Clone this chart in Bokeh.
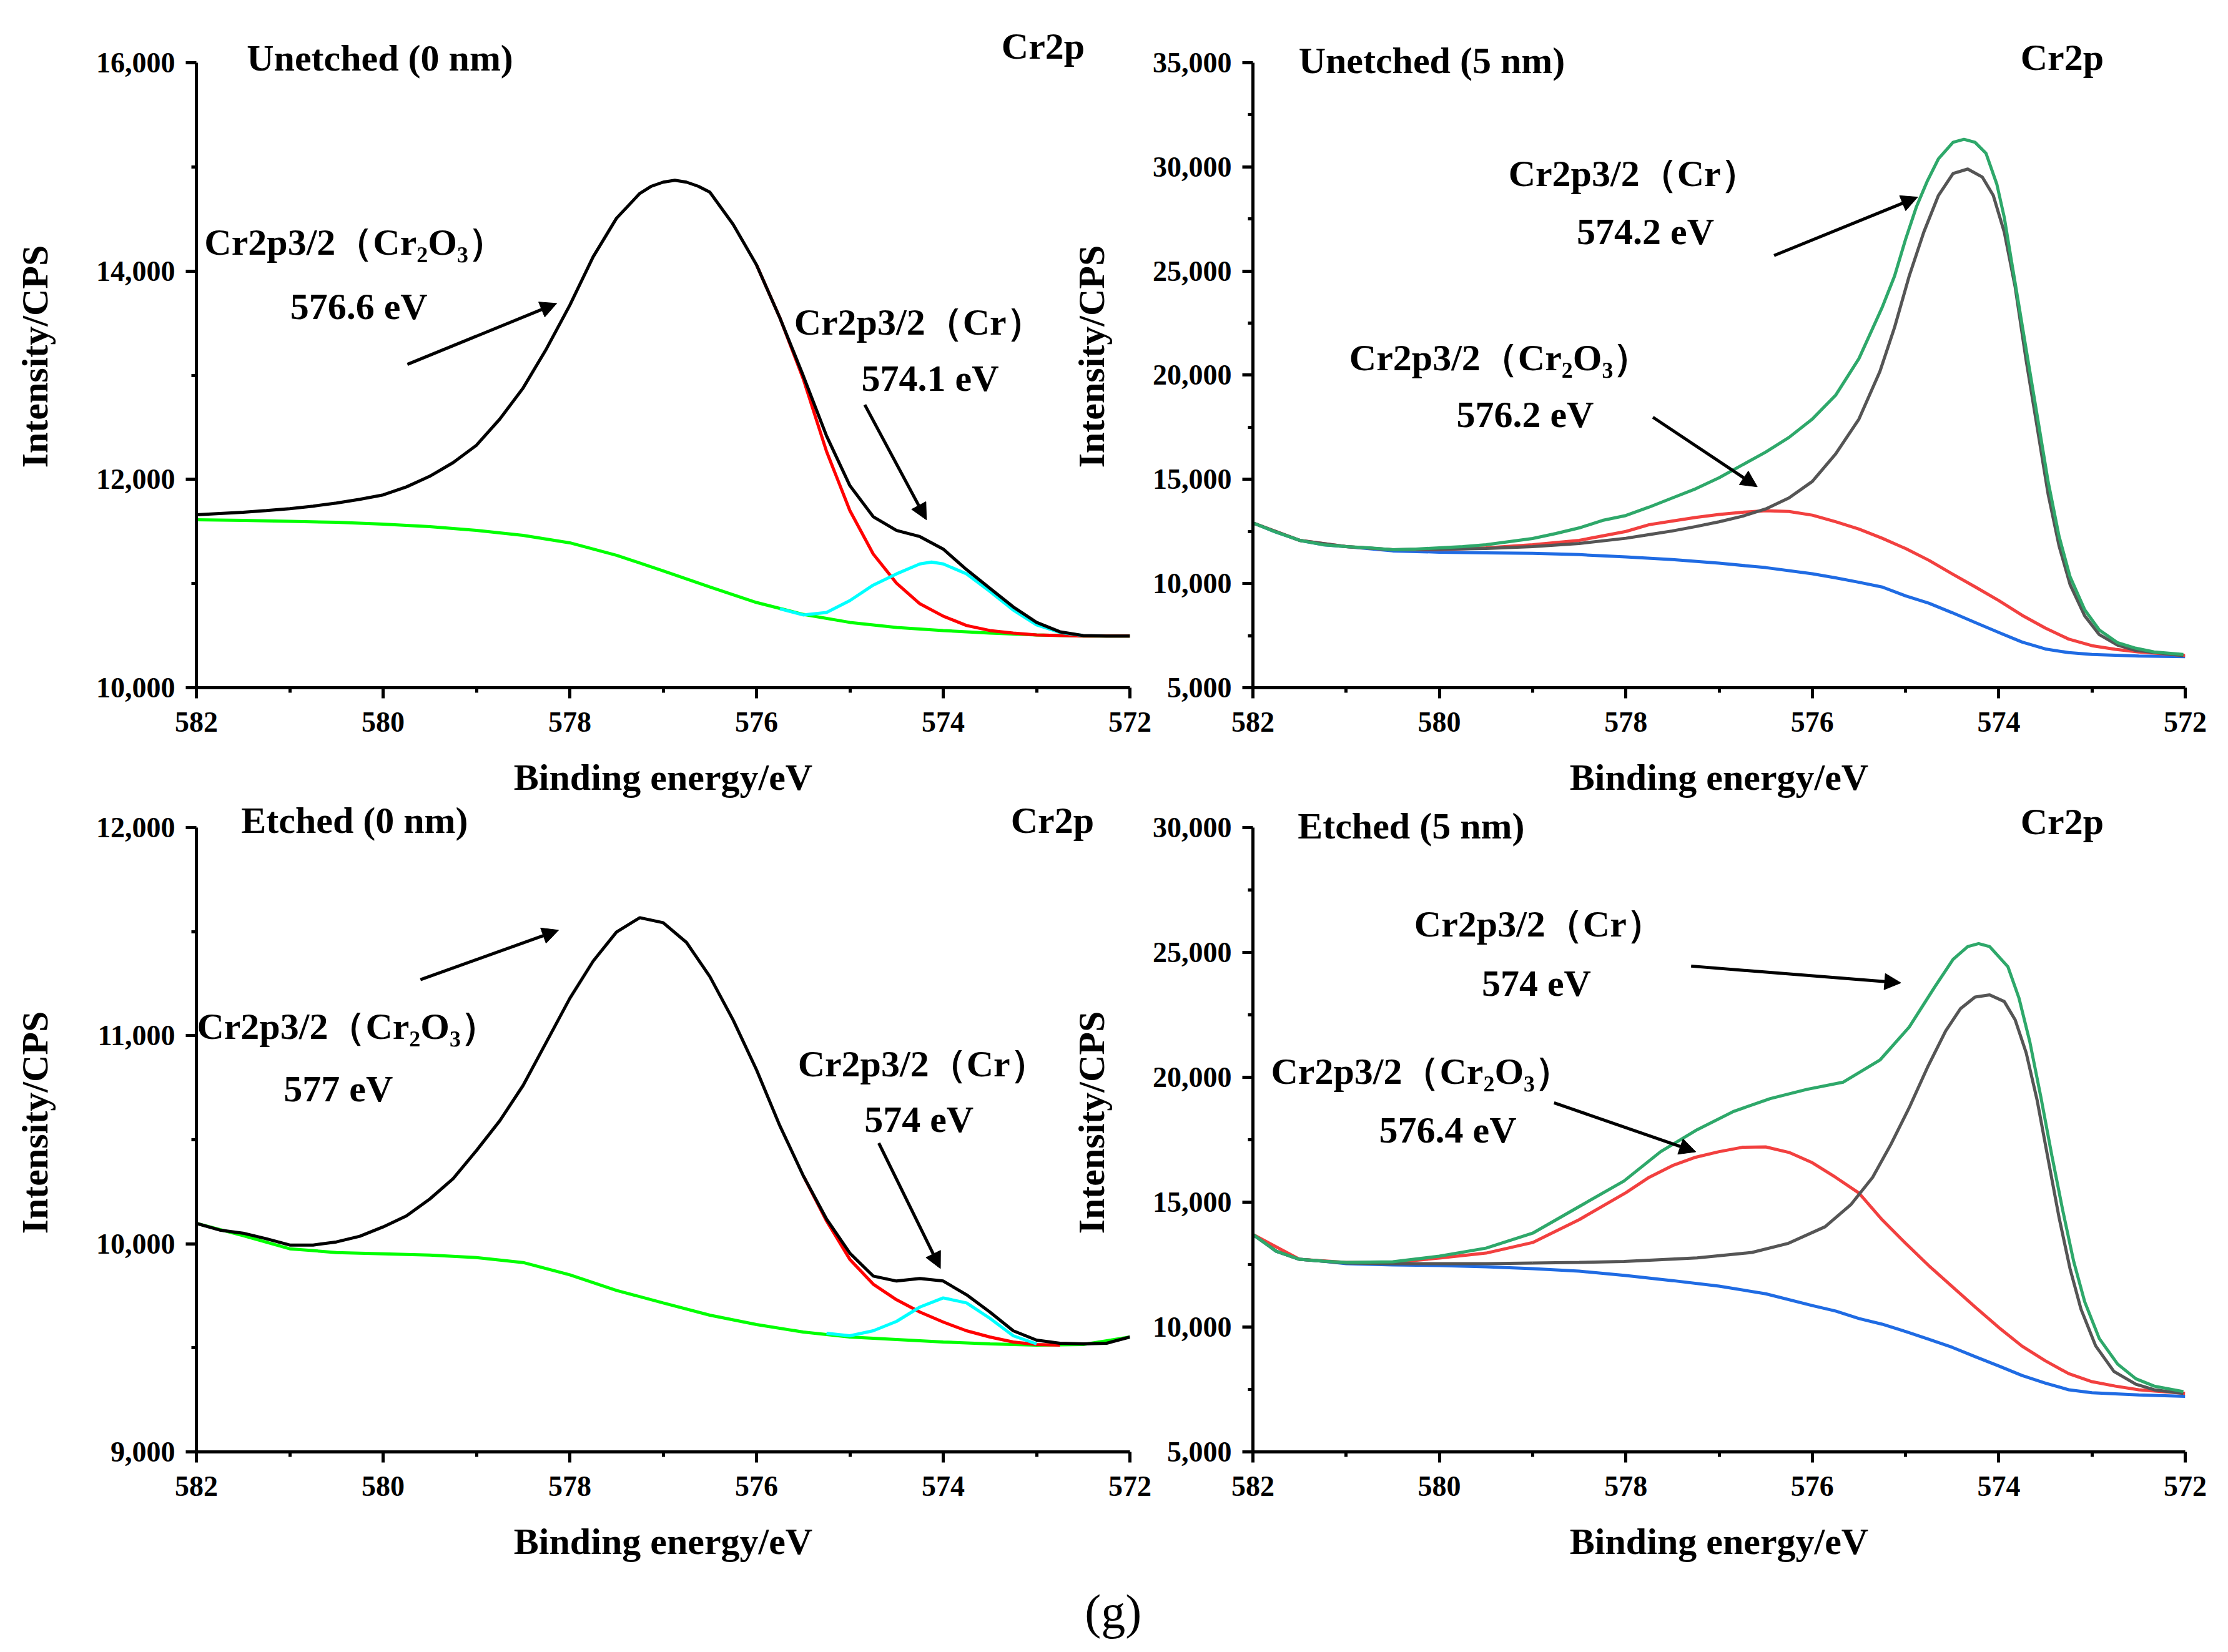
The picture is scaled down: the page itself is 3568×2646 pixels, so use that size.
from bokeh.plotting import figure
from bokeh.layouts import row, column
from bokeh.models import Range1d, FixedTicker, NumeralTickFormatter, Label, Arrow, NormalHead
from bokeh.embed import file_html
from bokeh.resources import INLINE

# ---------------- data: binding energy (eV) and intensity (CPS) ----------------
E41 = [582.0, 581.75, 581.5, 581.25, 581.0, 580.75, 580.5, 580.25, 580.0, 579.75, 579.5, 579.25,
       579.0, 578.75, 578.5, 578.25, 578.0, 577.75, 577.5, 577.25, 577.0, 576.75, 576.5, 576.25,
       576.0, 575.75, 575.5, 575.25, 575.0, 574.75, 574.5, 574.25, 574.0, 573.75, 573.5, 573.25,
       573.0, 572.75, 572.5, 572.25, 572.0]
E21 = [582.0, 581.5, 581.0, 580.5, 580.0, 579.5, 579.0, 578.5, 578.0, 577.5, 577.0, 576.5,
       576.0, 575.5, 575.0, 574.5, 574.0, 573.5, 573.0, 572.5, 572.0]

# Unetched (0 nm)
tl_black_e = [582.0, 581.75, 581.5, 581.25, 581.0, 580.75, 580.5, 580.25, 580.0, 579.75, 579.5,
              579.25, 579.0, 578.75, 578.5, 578.25, 578.0, 577.75, 577.5, 577.25, 577.125, 577.0,
              576.875, 576.75, 576.625, 576.5, 576.25, 576.0, 575.75, 575.5, 575.25, 575.0,
              574.75, 574.5, 574.25, 574.0, 573.75, 573.5, 573.25, 573.0, 572.75, 572.5, 572.25,
              572.0]
tl_black = [11660, 11672, 11684, 11701, 11719, 11743, 11773, 11809, 11851, 11928, 12030, 12161,
            12328, 12579, 12878, 13254, 13672, 14137, 14507, 14746, 14815, 14854, 14872, 14854,
            14815, 14758, 14448, 14060, 13552, 12997, 12418, 11940, 11642, 11510, 11451, 11331,
            11134, 10955, 10776, 10627, 10537, 10501, 10496, 10496]
tl_green = [11612, 11606, 11597, 11588, 11570, 11546, 11510, 11463, 11391, 11272, 11122, 10967,
            10818, 10704, 10627, 10579, 10549, 10525, 10507, 10496, 10496]
tl_red_e = [576.0, 575.75, 575.5, 575.25, 575.0, 574.75, 574.5, 574.25, 574.0, 573.75, 573.5,
            573.25, 573.0, 572.5, 572.0]
tl_red = [14060, 13552, 12967, 12269, 11701, 11284, 11003, 10806, 10687, 10597, 10549, 10525,
          10507, 10496, 10496]
tl_cyan_e = [575.75, 575.5, 575.25, 575.0, 574.75, 574.5, 574.25, 574.125, 574.0, 573.75, 573.5,
             573.25, 573.0, 572.75, 572.5]
tl_cyan = [10758, 10699, 10722, 10836, 10985, 11093, 11188, 11206, 11188, 11093, 10925, 10746,
           10603, 10531, 10501]

# Unetched (5 nm)
tr_green_e = [582.0, 581.75, 581.5, 581.25, 581.0, 580.75, 580.5, 580.25, 580.0, 579.75, 579.5,
              579.25, 579.0, 578.75, 578.5, 578.25, 578.0, 577.75, 577.5, 577.25, 577.0, 576.75,
              576.5, 576.25, 576.0, 575.75, 575.5, 575.25, 575.118, 575.0, 574.882, 574.765,
              574.647, 574.49, 574.373, 574.255, 574.137, 574.02, 573.941, 573.863, 573.784,
              573.706, 573.588, 573.471, 573.353, 573.235, 573.078, 572.922, 572.725, 572.529,
              572.333, 572.02]
tr_green = [12910, 12463, 12074, 11866, 11776, 11716, 11627, 11657, 11716, 11776, 11866, 12015,
            12164, 12403, 12671, 13030, 13265, 13670, 14110, 14550, 15078, 15694, 16310, 17014,
            17894, 19038, 20798, 23262, 24758, 26518, 28102, 29334, 30390, 31182, 31323, 31182,
            30654, 29158, 27574, 25462, 23350, 21238, 18070, 14902, 12262, 10326, 8742, 7774,
            7158, 6894, 6718, 6595]
tr_gray_e = [582.0, 581.5, 581.0, 580.5, 580.0, 579.5, 579.0, 578.5, 578.0, 577.75, 577.5, 577.25,
             577.0, 576.75, 576.5, 576.25, 576.0, 575.75, 575.5, 575.275, 575.118, 574.961,
             574.804, 574.647, 574.49, 574.333, 574.176, 574.059, 573.941, 573.824, 573.706,
             573.588, 573.471, 573.353, 573.235, 573.078, 572.922, 572.725, 572.529, 572.02]
tr_gray = [12910, 12074, 11776, 11627, 11657, 11686, 11776, 11925, 12174, 12350, 12526, 12737,
           12966, 13230, 13582, 14110, 14902, 16222, 17894, 20182, 22294, 24758, 26870, 28630,
           29686, 29897, 29510, 28630, 26870, 24230, 20700, 17500, 14300, 11800, 9950, 8450,
           7550, 7040, 6790, 6542]
tr_red_e = [582.0, 581.5, 581.0, 580.5, 580.0, 579.5, 579.0, 578.5, 578.0, 577.75, 577.5, 577.25,
            577.0, 576.75, 576.5, 576.25, 576.0, 575.75, 575.5, 575.25, 575.0, 574.75, 574.5,
            574.25, 574.0, 573.75, 573.5, 573.25, 573.0, 572.75, 572.5, 572.25, 572.0]
tr_red = [12910, 12074, 11776, 11627, 11627, 11716, 11866, 12074, 12500, 12825, 13001, 13177,
          13318, 13424, 13494, 13459, 13283, 12966, 12614, 12174, 11681, 11118, 10467, 9833,
          9182, 8478, 7862, 7334, 7017, 6841, 6718, 6630, 6542]
tr_blue_e = [582.0, 581.75, 581.5, 581.25, 581.0, 580.5, 580.0, 579.5, 579.0, 578.5, 578.0, 577.5,
             577.0, 576.5, 576.0, 575.75, 575.5, 575.25, 575.0, 574.75, 574.5, 574.25, 574.0,
             573.75, 573.5, 573.25, 573.0, 572.5, 572.0]
tr_blue = [12910, 12463, 12074, 11866, 11776, 11567, 11507, 11477, 11448, 11388, 11276, 11153,
           10977, 10766, 10467, 10273, 10062, 9833, 9411, 9059, 8602, 8126, 7651, 7193, 6859,
           6683, 6595, 6524, 6489]

# Etched (0 nm)
bl_black = [10098, 10066, 10051, 10024, 9994, 9994, 10009, 10036, 10081, 10134, 10215, 10313,
            10448, 10591, 10761, 10970, 11179, 11358, 11498, 11567, 11543, 11448, 11284, 11075,
            10836, 10567, 10328, 10119, 9955, 9845, 9821, 9833, 9821, 9755, 9672, 9582, 9537,
            9522, 9519, 9522, 9552]
bl_green = [10098, 10039, 9976, 9958, 9952, 9946, 9934, 9910, 9851, 9776, 9716, 9657, 9612, 9576,
            9552, 9540, 9528, 9519, 9513, 9516, 9552]
bl_red_e = [575.5, 575.25, 575.0, 574.75, 574.5, 574.25, 574.0, 573.75, 573.5, 573.25, 573.0, 572.75]
bl_red = [10328, 10110, 9925, 9806, 9731, 9672, 9624, 9582, 9552, 9528, 9516, 9513]
bl_cyan_e = [575.25, 575.0, 574.75, 574.5, 574.25, 574.0, 573.75, 573.5, 573.25, 573.0]
bl_cyan = [9570, 9558, 9582, 9627, 9696, 9740, 9716, 9642, 9558, 9519]

# Etched (5 nm)
br_green_e = [582.0, 581.75, 581.5, 581.25, 581.0, 580.5, 580.0, 579.5, 579.0, 578.5, 578.02,
              577.627, 577.235, 576.843, 576.451, 576.059, 575.667, 575.275, 574.961, 574.686,
              574.49, 574.333, 574.216, 574.098, 573.902, 573.784, 573.667, 573.549, 573.431,
              573.314, 573.196, 573.078, 572.922, 572.725, 572.529, 572.333, 572.02]
br_green = [13707, 13035, 12712, 12637, 12587, 12612, 12836, 13160, 13757, 14826, 15848, 17022,
            17902, 18635, 19148, 19515, 19808, 20688, 22008, 23622, 24722, 25235, 25352, 25235,
            24428, 23182, 21422, 19221, 16875, 14675, 12621, 11008, 9541, 8515, 7928, 7635, 7415]
br_gray_e = [582.0, 581.75, 581.5, 581.25, 581.0, 580.5, 580.0, 579.5, 579.0, 578.5, 578.02,
             577.235, 576.647, 576.255, 575.863, 575.588, 575.353, 575.157, 574.961, 574.765,
             574.569, 574.412, 574.255, 574.098, 573.941, 573.824, 573.706, 573.588, 573.471,
             573.353, 573.235, 573.118, 572.961, 572.765, 572.529, 572.333, 572.02]
br_gray = [13707, 13035, 12712, 12637, 12562, 12537, 12537, 12537, 12562, 12587, 12622, 12768,
           12988, 13355, 14015, 14895, 15995, 17315, 18782, 20395, 21862, 22742, 23211, 23299,
           23035, 22302, 20982, 19075, 16728, 14381, 12328, 10714, 9248, 8222, 7708, 7488, 7341]
br_red_e = [582.0, 581.5, 581.0, 580.5, 580.0, 579.5, 579.0, 578.5, 578.0, 577.75, 577.5, 577.25,
            577.0, 576.75, 576.5, 576.25, 576.0, 575.75, 575.5, 575.25, 575.0, 574.75, 574.5,
            574.25, 574.0, 573.75, 573.5, 573.25, 573.0, 572.75, 572.5, 572.0]
br_red = [13707, 12712, 12587, 12587, 12761, 12960, 13383, 14300, 15379, 15995, 16464, 16801,
          17022, 17197, 17212, 16992, 16581, 15995, 15364, 14293, 13355, 12455, 11624, 10788,
          9982, 9234, 8647, 8133, 7811, 7635, 7488, 7341]
br_blue_e = [582.0, 581.75, 581.5, 581.25, 581.0, 580.5, 580.0, 579.5, 579.0, 578.5, 578.0, 577.5,
             577.0, 576.5, 576.0, 575.75, 575.5, 575.25, 575.0, 574.75, 574.5, 574.25, 574.0,
             573.75, 573.5, 573.25, 573.0, 572.5, 572.0]
br_blue = [13707, 13035, 12712, 12637, 12537, 12488, 12463, 12413, 12338, 12239, 12064, 11859,
           11639, 11331, 10860, 10640, 10340, 10113, 9820, 9512, 9189, 8808, 8441, 8060, 7752,
           7488, 7371, 7282, 7224]

x_ticks = [582, 580, 578, 576, 574, 572]
x_minor = [581, 579, 577, 575, 573]

FONT = "Liberation Serif"


def panel(width, height, y0, y1, y_top, step, left, top, bottom, right):
    # y_top sits a little above the last tick so the panel titles are inside the frame;
    # the axis line itself stops at the last tick (bounds)
    p = figure(width=width, height=height, x_range=Range1d(582, 572), y_range=Range1d(y0, y_top),
               output_backend="svg", toolbar_location=None,
               min_border_left=left, min_border_right=right,
               min_border_top=top, min_border_bottom=bottom)
    p.grid.visible = False
    p.outline_line_color = None
    # transparent so that neighbouring panels can overlap a little
    p.border_fill_alpha = 0
    p.background_fill_alpha = 0
    yt = list(range(y0, y1 + 1, step))
    p.xaxis.ticker = FixedTicker(ticks=x_ticks, minor_ticks=x_minor)
    p.yaxis.ticker = FixedTicker(ticks=yt, minor_ticks=[v + step / 2 for v in yt[:-1]])
    p.yaxis.bounds = (y0, y1)
    p.yaxis.formatter = NumeralTickFormatter(format="0,0")
    p.xaxis.axis_label = "Binding energy/eV"
    p.yaxis.axis_label = "Intensity/CPS"
    for ax in (p.xaxis[0], p.yaxis[0]):
        ax.axis_line_width = 5
        ax.major_tick_line_width = 5
        ax.minor_tick_line_width = 5
        ax.major_tick_in = 0
        ax.major_tick_out = 17
        ax.minor_tick_in = 0
        ax.minor_tick_out = 8
        ax.major_label_text_font = FONT
        ax.major_label_text_font_style = "bold"
        ax.major_label_text_font_size = "46px"
        ax.major_label_text_color = "black"
        ax.axis_label_text_font = FONT
        ax.axis_label_text_font_style = "bold"
        ax.axis_label_text_font_size = "60px"
        ax.axis_label_text_color = "black"
    p.xaxis.major_label_standoff = 22
    p.xaxis.axis_label_standoff = 37
    p.yaxis.major_label_standoff = 17
    p.yaxis.axis_label_standoff = 62
    return p


def txt(p, x, y, s, align="center", size="60px", style="bold"):
    p.add_layout(Label(x=x, y=y, text=s, text_font=FONT, text_font_style=style,
                       text_font_size=size, text_align=align, text_baseline="middle",
                       text_color="black"))


def arrow(p, x0, y0, x1, y1):
    p.add_layout(Arrow(end=NormalHead(size=26, fill_color="black", line_color="black", line_width=1),
                       x_start=x0, y_start=y0, x_end=x1, y_end=y1,
                       line_width=5, line_color="black"))


LW = 5

# ---- top left ----
tl = panel(1850, 1293, 10000, 16000, 16360, 2000, 314, 40, 192, 41)
tl.yaxis.ticker.minor_ticks = [11000, 13000, 15000]
tl.line(E21, tl_green, line_color="#00ff00", line_width=LW)
tl.line(tl_red_e, tl_red, line_color="#ff0000", line_width=LW)
tl.line(tl_cyan_e, tl_cyan, line_color="#00ffff", line_width=LW)
tl.line(tl_black_e, tl_black, line_color="#000000", line_width=LW)
txt(tl, 581.46, 16048, "Unetched (0 nm)", align="left")
txt(tl, 572.93, 16162, "Cr2p")
txt(tl, 580.30, 14274, "Cr2p3/2（Cr₂O₃）")
txt(tl, 580.26, 13662, "576.6 eV")
txt(tl, 574.26, 13512, "Cr2p3/2（Cr）")
txt(tl, 574.14, 12973, "574.1 eV")
arrow(tl, 579.74, 13104, 578.14, 13690)
arrow(tl, 574.84, 12716, 574.18, 11612)

# ---- top right ----
tr = panel(1860, 1293, 5000, 35000, 36798, 5000, 306, 40, 192, 61)
tr.margin = (0, 0, 0, -150)
tr.line(tr_blue_e, tr_blue, line_color="#1f6be3", line_width=LW)
tr.line(tr_red_e, tr_red, line_color="#f2403f", line_width=LW)
tr.line(tr_gray_e, tr_gray, line_color="#555555", line_width=LW)
tr.line(tr_green_e, tr_green, line_color="#2ea86a", line_width=LW)
txt(tr, 581.51, 35090, "Unetched (5 nm)", align="left")
txt(tr, 573.32, 35240, "Cr2p")
txt(tr, 577.92, 29695, "Cr2p3/2（Cr）")
txt(tr, 577.79, 26878, "574.2 eV")
txt(tr, 579.35, 20854, "Cr2p3/2（Cr₂O₃）")
txt(tr, 579.08, 18097, "576.2 eV")
arrow(tr, 576.41, 25746, 574.87, 28552)
arrow(tr, 577.71, 17985, 576.59, 14642)

# ---- bottom left ----
bl = panel(1850, 1257, 9000, 12000, 12165, 1000, 314, 10, 192, 41)
bl.line(E21, bl_green, line_color="#00ff00", line_width=LW)
bl.line(bl_red_e, bl_red, line_color="#ff0000", line_width=LW)
bl.line(bl_cyan_e, bl_cyan, line_color="#00ffff", line_width=LW)
bl.line(E41, bl_black, line_color="#000000", line_width=LW)
txt(bl, 581.52, 12036, "Etched (0 nm)", align="left")
txt(bl, 572.83, 12036, "Cr2p")
txt(bl, 580.38, 11046, "Cr2p3/2（Cr₂O₃）")
txt(bl, 580.48, 10746, "577 eV")
txt(bl, 574.22, 10866, "Cr2p3/2（Cr）")
txt(bl, 574.26, 10599, "574 eV")
arrow(bl, 579.60, 11269, 578.12, 11507)
arrow(bl, 574.69, 10484, 574.03, 9881)

# ---- bottom right ----
br = panel(1860, 1257, 5000, 30000, 31375, 5000, 306, 10, 192, 61)
br.margin = (0, 0, 0, -150)
br.line(br_blue_e, br_blue, line_color="#1f6be3", line_width=LW)
br.line(br_red_e, br_red, line_color="#f2403f", line_width=LW)
br.line(br_gray_e, br_gray, line_color="#555555", line_width=LW)
br.line(br_green_e, br_green, line_color="#2ea86a", line_width=LW)
txt(br, 581.52, 30075, "Etched (5 nm)", align="left")
txt(br, 573.32, 30250, "Cr2p")
txt(br, 578.93, 26150, "Cr2p3/2（Cr）")
txt(br, 578.96, 23775, "574 eV")
txt(br, 580.19, 20250, "Cr2p3/2（Cr₂O₃）")
txt(br, 579.91, 17900, "576.4 eV")
arrow(br, 577.30, 24453, 575.05, 23781)
arrow(br, 578.77, 18980, 577.25, 17015)

# ---- caption strip ----
cap = figure(width=3560, height=123, x_range=Range1d(0, 1), y_range=Range1d(0, 1),
             x_axis_type=None, y_axis_type=None, output_backend="svg", toolbar_location=None,
             min_border=0)
cap.grid.visible = False
cap.outline_line_color = None
txt(cap, 0.5006, 0.48, "(g)", size="78px", style="normal")

bottom_row = row(bl, br)
bottom_row.margin = (-33, 0, 0, 0)
p = column(row(tl, tr), bottom_row, cap)
open("out.html", "w").write(file_html(p, INLINE))
